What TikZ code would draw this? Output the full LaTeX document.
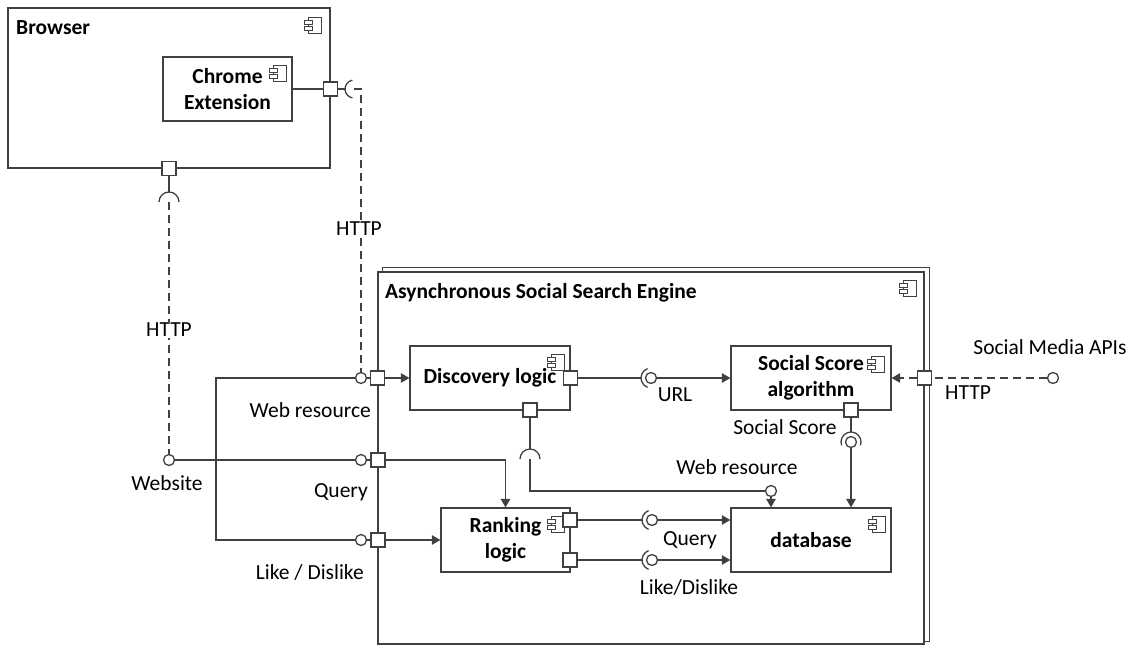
\documentclass[tikz,border=0pt]{standalone}
\usepackage{fontspec}
\setmainfont{Carlito}
\usepackage{tikz}
\usetikzlibrary{arrows,backgrounds}
\definecolor{linec}{RGB}{64,64,64}

\tikzset{
  comp/.style={draw=linec, line width=1.3pt, inner sep=0pt, align=center, font=\fontsize{21.5}{26}\selectfont\bfseries},
  frame/.style={draw=linec, line width=1.3pt, inner sep=0pt},
  port/.style={draw=linec, fill=white, line width=1.3pt, minimum size=14pt, inner sep=0pt},
  ball/.style={circle, draw=linec, fill=white, line width=1.3pt, minimum size=11pt, inner sep=0pt},
  lbl/.style={inner sep=1pt, font=\fontsize{21.5}{25}\selectfont},
  title/.style={anchor=west, inner sep=0pt, font=\fontsize{21.5}{25}\selectfont\bfseries},
  wire/.style={draw=linec, line width=1.3pt},
  flow/.style={wire, -triangle 60},
  http/.style={wire, dash pattern=on 8pt off 5pt},
  compicon/.pic={
    \draw[linec, line width=1pt, fill=white] (-6,-8) rectangle (7,8);
    \draw[linec, line width=1pt, fill=white] (-10,-5) rectangle (-2,-1);
    \draw[linec, line width=1pt, fill=white] (-10,1) rectangle (-2,5);
  }
}

\begin{document}
\begin{tikzpicture}[x=1pt,y=1pt]
\useasboundingbox (0,0) rectangle (1132,-646);

\node[frame, minimum width=322pt, minimum height=160pt] (browser) at (169,-88) {};
\node[title] (browsertitle) at (16,-28) {Browser};
\pic at (314,-25) {compicon};
\node[comp, minimum width=129pt, minimum height=64pt] (chromeext) at (227.5,-89) {Chrome\\Extension};
\pic at (279,-73) {compicon};

\node[frame, minimum width=546pt, minimum height=372pt] (engine) at (651,-458) {};
\draw[wire] ([xshift=5pt]engine.north west) -- ++(0,4) -| ([xshift=5pt,yshift=3pt]engine.south east) -- ++(-5,0);
\node[title] (enginetitle) at (385,-293) {Asynchronous Social Search Engine};
\pic at (909,-288) {compicon};

\node[comp, minimum width=160pt, minimum height=64pt] (discovery) at (490,-378) {Discovery logic};
\pic at (557,-362) {compicon};
\node[comp, minimum width=160pt, minimum height=64pt] (socialscore) at (811,-378) {Social Score\\algorithm};
\pic at (877,-364) {compicon};
\node[comp, minimum width=129pt, minimum height=64pt] (ranking) at (505.5,-540) {Ranking\\logic};
\pic at (557,-524) {compicon};
\node[comp, minimum width=160pt, minimum height=64pt] (database) at (811,-540) {database};
\pic at (878,-524) {compicon};

\node[port] (pce) at (browser.east |- chromeext.east) {};
\node[port] (pbr) at (browser.south) {};
\node[port] (pweb) at (engine.west |- discovery.west) {};
\node[port] (pquery) at (378,-460) {};
\node[port] (plike) at (378,-540) {};
\node[port] (pdiscr) at (discovery.east) {};
\node[port] (pdiscb) at (530,-410) {};
\node[port] (pssb) at (851,-410) {};
\node[port] (phttp) at (engine.east |- socialscore.east) {};
\node[port] (prank1) at (570,-520) {};
\node[port] (prank2) at (570,-560) {};

\node[ball] (bweb) at (361,-378) {};
\node[ball] (bquery) at (361,-460) {};
\node[ball] (blike) at (361,-540) {};
\node[ball] (bwebsite) at (169,-460) {};
\node[ball] (bsma) at (1053,-378) {};
\node[ball] (bdb) at (771,-491) {};
\node[ball] (burl) at (651,-378) {};
\node[ball] (bss) at (851,-442) {};
\node[ball] (bq) at (652,-520) {};
\node[ball] (bl) at (652,-560) {};

\coordinate (sce) at (354,-89);
\coordinate (sbr) at (169,-202);
\coordinate (sdisc) at (530,-459);
\draw[wire] (sce) ++(100:9) arc[start angle=100, end angle=260, radius=9];
\draw[wire] (sbr) ++(180:10) arc[start angle=180, end angle=0, radius=10];
\draw[wire] (sdisc) ++(180:10) arc[start angle=180, end angle=0, radius=10];
\foreach \b in {burl,bq,bl}
  \draw[wire] (\b) ++(110:10) arc[start angle=110, end angle=250, radius=10];
\draw[wire] (bss) ++(200:10) arc[start angle=200, end angle=-20, radius=10];

\begin{pgfonlayer}{background}
\fill[white] (0,0) rectangle (1132,-646);
\draw[wire] (chromeext) -- (pce);
\draw[wire] (pce) -- ([xshift=-9pt]sce);
\draw[wire] (pbr) -- ([yshift=10pt]sbr);
\draw[http] (sce) -| (bweb);
\draw[http] (sbr) -- (bwebsite);
\draw[wire] (bwebsite) -- (bquery);
\draw[wire] (bweb) -- (216,-378) |- (blike);
\draw[wire] (bweb) -- (pweb);
\draw[wire] (bquery) -- (pquery);
\draw[wire] (blike) -- (plike);
\draw[flow] (pweb) -- (discovery);
\draw[flow] (pquery) -| (ranking);
\draw[flow] (plike) -- (ranking);
\draw[wire] (pdiscr) -- ([xshift=-10pt]burl.center);
\draw[flow] (burl) -- (socialscore);
\draw[wire] (pssb) -- ([yshift=10pt]bss.center);
\draw[flow] (bss) -- (bss |- database.north);
\draw[wire] (pdiscb) -- ([yshift=10pt]sdisc);
\draw[wire] (sdisc) |- (bdb);
\draw[flow] (bdb) -- (bdb |- database.north);
\draw[wire] (prank1) -- ([xshift=-10pt]bq.center);
\draw[flow] (bq) -- (bq -| database.west);
\draw[wire] (prank2) -- ([xshift=-10pt]bl.center);
\draw[flow] (bl) -- (bl -| database.west);
\draw[http, -triangle 60] (bsma) -- (socialscore);
\end{pgfonlayer}

\node[lbl, fill=white] (http1) at (359,-229) {HTTP};
\node[lbl, fill=white] (http2) at (169,-330) {HTTP};
\node[lbl, anchor=east] (lweb) at (372,-410) {Web resource};
\node[lbl, anchor=east] (lquery) at (369,-492) {Query};
\node[lbl, anchor=east] (llike) at (365,-572) {Like / Dislike};
\node[lbl] (lwebsite) at (167,-483) {Website};
\node[lbl] (lurl) at (675,-395) {URL};
\node[lbl] (lss) at (785,-427) {Social Score};
\node[lbl] (lwebdb) at (737,-467) {Web resource};
\node[lbl] (lq) at (690,-540) {Query};
\node[lbl] (ll) at (689,-587) {Like/Dislike};
\node[lbl] (lhttp) at (968,-393) {HTTP};
\node[lbl] (lsma) at (1050,-347) {Social Media APIs};
\end{tikzpicture}
\end{document}
